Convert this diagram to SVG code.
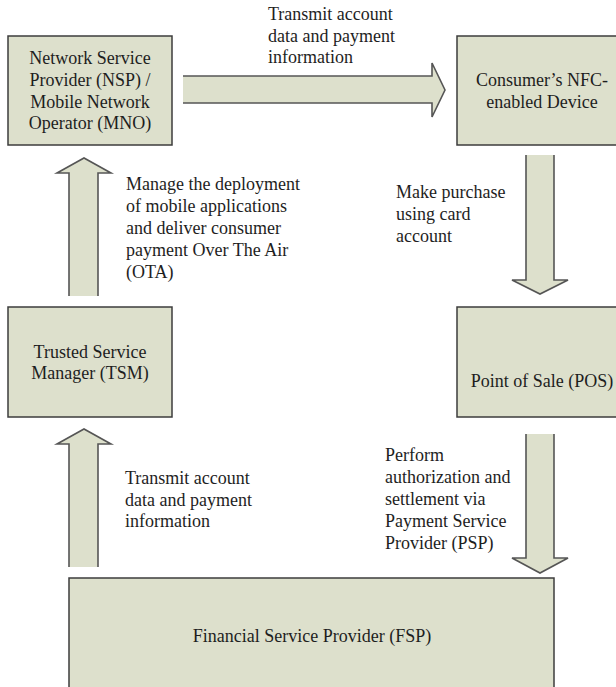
<svg xmlns="http://www.w3.org/2000/svg" width="616" height="687" viewBox="0 0 616 687">
<style>
.box{fill:#dde0cc;stroke:#3c3c3c;stroke-width:1.5}
.af{fill:#dde0cc;stroke:none}
.as{fill:none;stroke:#555;stroke-width:1.6;stroke-linejoin:miter}
text{font-family:"Liberation Serif","Times New Roman",serif;font-size:18px;fill:#1e1e1e}
.c{text-anchor:middle}
</style>
<rect width="616" height="687" fill="#fff"/>
<g id="nsp">
<rect class="box" x="8" y="36" width="164" height="109"/>
<text class="c" x="90" y="64">Network Service</text>
<text class="c" x="90" y="86">Provider (NSP) /</text>
<text class="c" x="90" y="108">Mobile Network</text>
<text class="c" x="90" y="129">Operator (MNO)</text>
</g>
<g id="consumer">
<rect class="box" x="457" y="36" width="170" height="109"/>
<text class="c" x="542" y="86">Consumer’s NFC-</text>
<text class="c" x="542" y="108">enabled Device</text>
</g>
<g id="tsm">
<rect class="box" x="8" y="307" width="164" height="110"/>
<text class="c" x="90" y="358">Trusted Service</text>
<text class="c" x="90" y="379">Manager (TSM)</text>
</g>
<g id="pos">
<rect class="box" x="457" y="307" width="170" height="110"/>
<text class="c" x="542" y="387">Point of Sale (POS)</text>
</g>
<g id="fsp">
<rect class="box" x="69" y="578" width="485" height="122"/>
<text class="c" x="312" y="642">Financial Service Provider (FSP)</text>
</g>
<g id="connectors">
<g id="nsp-consumer">
<polygon class="af" points="183,76 432,76 432,63 445,90 432,117 432,103 183,103"/>
<path class="as" d="M183,76 L432,76 L432,63 L445,90 L432,117 L432,103 L183,103"/>
<text x="268" y="20">Transmit account</text>
<text x="268" y="42">data and payment</text>
<text x="268" y="63">information</text>
</g>
<g id="tsm-nsp">
<polygon class="af" points="69,296 69,173 57,173 84,158 111,173 98,173 98,296"/>
<path class="as" d="M69,296 L69,173 L57,173 L84,158 L111,173 L98,173 L98,296"/>
<text x="126" y="190">Manage the deployment</text>
<text x="126" y="212">of mobile applications</text>
<text x="126" y="234">and deliver consumer</text>
<text x="126" y="256">payment Over The Air</text>
<text x="126" y="278">(OTA)</text>
</g>
<g id="consumer-pos">
<polygon class="af" points="526,155 526,280 512,280 540,294 568,280 554,280 554,155"/>
<path class="as" d="M526,155 L526,280 L512,280 L540,294 L568,280 L554,280 L554,155"/>
<text x="396" y="198">Make purchase</text>
<text x="396" y="220">using card</text>
<text x="396" y="242">account</text>
</g>
<g id="fsp-tsm">
<polygon class="af" points="69,567 69,444 57,444 84,429 111,444 98,444 98,567"/>
<path class="as" d="M69,567 L69,444 L57,444 L84,429 L111,444 L98,444 L98,567"/>
<text x="125" y="484">Transmit account</text>
<text x="125" y="506">data and payment</text>
<text x="125" y="527">information</text>
</g>
<g id="pos-fsp">
<polygon class="af" points="526,434 526,558 512,558 540,573 568,558 554,558 554,434"/>
<path class="as" d="M526,434 L526,558 L512,558 L540,573 L568,558 L554,558 L554,434"/>
<text x="385" y="461">Perform</text>
<text x="385" y="483">authorization and</text>
<text x="385" y="505">settlement via</text>
<text x="385" y="527">Payment Service</text>
<text x="385" y="549">Provider (PSP)</text>
</g>
</g>
</svg>
